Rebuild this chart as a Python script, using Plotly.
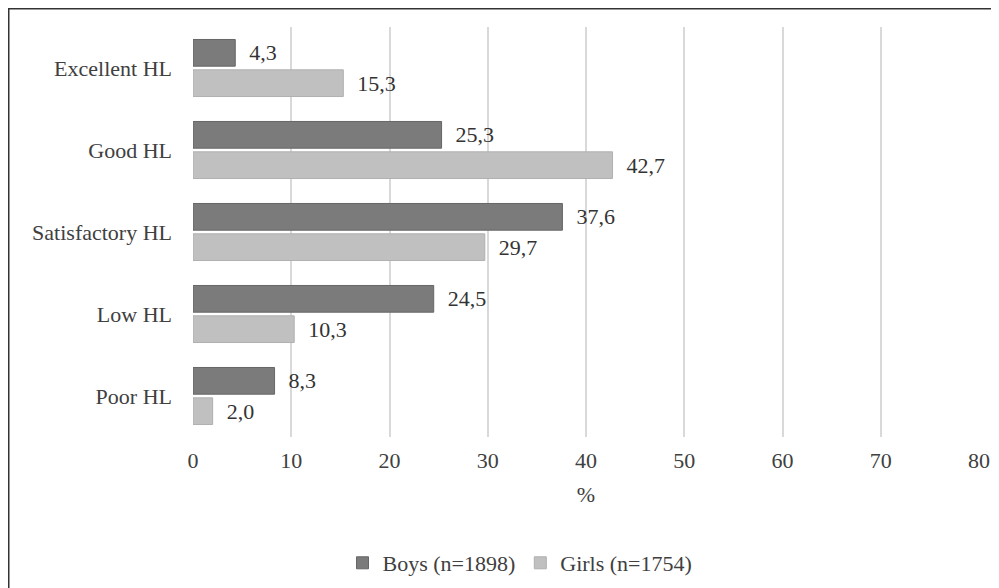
import plotly.graph_objects as go

categories = ["Excellent HL", "Good HL", "Satisfactory HL", "Low HL", "Poor HL"]
boys = [4.3, 25.3, 37.6, 24.5, 8.3]
girls = [15.3, 42.7, 29.7, 10.3, 2.0]
boys_name = "Boys (n=1898)"
girls_name = "Girls (n=1754)"
x_ticks = [0, 10, 20, 30, 40, 50, 60, 70, 80]

FONT = "Liberation Serif, Times New Roman, serif"
TXT = "#404040"
FS = 22

def fmt(v):
    return "  " + f"{v:.1f}".replace(".", ",")

fig = go.Figure()
fig.add_trace(go.Bar(
    y=categories, x=boys, name=boys_name, orientation="h",
    marker=dict(color="#7b7b7b", line=dict(color="#666666", width=1)),
    text=[fmt(v) for v in boys], textposition="outside", cliponaxis=False,
    textfont=dict(family=FONT, size=FS, color="#333333"),
))
fig.add_trace(go.Bar(
    y=categories, x=girls, name=girls_name, orientation="h",
    marker=dict(color="#c0c0c0", line=dict(color="#b0b0b0", width=1)),
    text=[fmt(v) for v in girls], textposition="outside", cliponaxis=False,
    textfont=dict(family=FONT, size=FS, color="#333333"),
))

W, H = 999, 588
L, R, T, B = 185, 28, 19, 159
pw, ph = W - L - R, H - T - B

def px(x):
    return (x - L) / pw

def py(y):
    return (H - B - y) / ph

fig.update_layout(
    width=W, height=H, autosize=False,
    margin=dict(l=L, r=R, t=T, b=B, autoexpand=False),
    paper_bgcolor="white", plot_bgcolor="white",
    barmode="group", bargap=0.26, bargroupgap=0.12,
    font=dict(family=FONT, size=FS, color=TXT),
    showlegend=True,
    legend=dict(orientation="h", x=px(512), xanchor="center",
                y=py(555), yanchor="middle",
                font=dict(family=FONT, size=FS, color=TXT), traceorder="normal"),
    xaxis=dict(range=[0, 80], tickvals=x_ticks, showgrid=True, gridcolor="#d9d9d9",
               gridwidth=1.5, zeroline=False, showline=False, ticks="",
               ticklabelstandoff=8,
               tickfont=dict(family=FONT, size=FS, color=TXT),
               title=dict(text="%", font=dict(family=FONT, size=FS, color=TXT), standoff=14)),
    yaxis=dict(autorange="reversed", showgrid=False, zeroline=False, showline=False,
               ticks="", ticklabelstandoff=20,
               tickfont=dict(family=FONT, size=FS, color=TXT)),
    shapes=[
        dict(type="line", xref="paper", yref="paper", x0=px(0), x1=px(1010), y0=py(0.5), y1=py(0.5),
             line=dict(color="#333333", width=2)),
        dict(type="line", xref="paper", yref="paper", x0=px(0.5), x1=px(0.5), y0=py(0), y1=py(600),
             line=dict(color="#333333", width=2)),
    ],
)

fig.write_html("out.html")
